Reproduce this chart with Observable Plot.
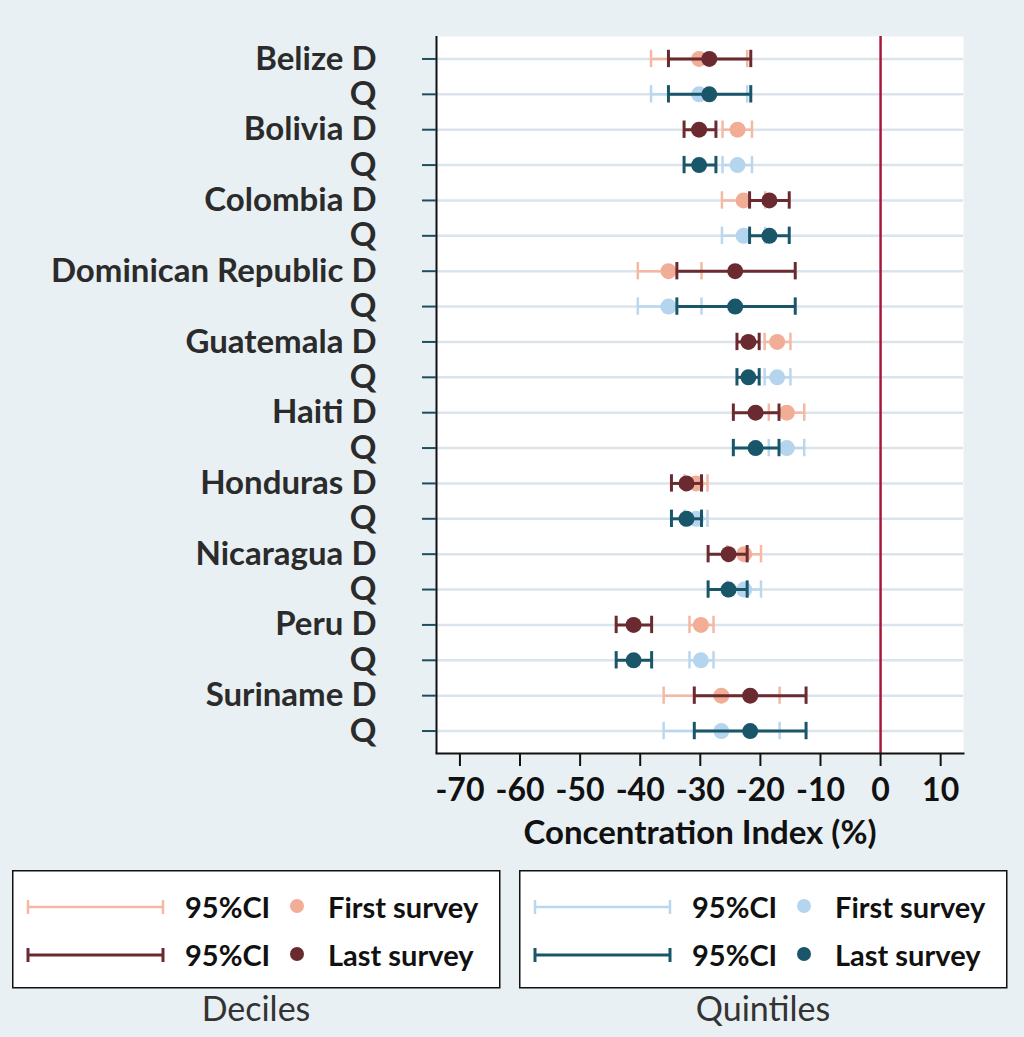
<!DOCTYPE html>
<html>
<head>
<meta charset="utf-8">
<script src="https://cdn.jsdelivr.net/npm/d3@7"></script>
<script src="https://cdn.jsdelivr.net/npm/@observablehq/plot@0.6"></script>
<style>
  html, body { margin: 0; padding: 0; background: #e9f0f3; }
  #wrap { position: relative; width: 1024px; height: 1037px; background: #e9f0f3; overflow: hidden; }
  #chart { position: absolute; left: 0; top: 0; }
  #legend { position: absolute; left: 0; top: 860px; }
</style>
</head>
<body>
<div id="wrap">
  <div id="chart"></div>
  <svg id="legend" width="1024" height="177"></svg>
</div>
<script>
// ---- data ----
const countries = ["Belize","Bolivia","Colombia","Dominican Republic","Guatemala","Haiti","Honduras","Nicaragua","Peru","Suriname"];
const methods = ["D", "Q"]; // D = deciles, Q = quintiles
const firstEst = [-30.2,-23.8,-22.8,-35.3,-17.2,-15.6,-30.7,-22.7,-29.9,-26.5];
const firstLo  = [-38.2,-26.3,-26.4,-40.4,-19.3,-18.6,-32.6,-25.5,-31.8,-36.1];
const firstHi  = [-22.2,-21.4,-19.2,-29.8,-15.0,-12.7,-28.8,-19.9,-27.8,-16.8];
const lastEst  = [-28.5,-30.2,-18.5,-24.2,-22.0,-20.8,-32.3,-25.3,-41.1,-21.7];
const lastLo   = [-35.3,-32.7,-21.8,-33.9,-23.9,-24.5,-34.8,-28.7,-44.0,-31.0];
const lastHi   = [-21.6,-27.4,-15.2,-14.2,-20.2,-16.9,-29.8,-22.2,-38.1,-12.4];
const xTicks = [-70,-60,-50,-40,-30,-20,-10,0,10];
const xDomain = [-73.9, 13.8];

// ---- table ----
const rows = [];
countries.forEach((c, i) => {
  methods.forEach(m => {
    rows.push({key: c + " " + m, country: c, method: m,
      firstEst: firstEst[i], firstLo: firstLo[i], firstHi: firstHi[i],
      lastEst: lastEst[i], lastLo: lastLo[i], lastHi: lastHi[i]});
  });
});
const keys = rows.map(d => d.key);
const labelOf = new Map(rows.map(d => [d.key, d.method === "D" ? d.country + " D" : "Q"]));

const colors = {
  D: {firstLine: "#f4b9a3", firstDot: "#f2ad97", last: "#6b2a30"},
  Q: {firstLine: "#bad7ee", firstDot: "#b5d4ee", last: "#19566a"}
};

const marks = [
  Plot.frame({fill: "white", stroke: "none"}),
  Plot.ruleY(keys, {y: d => d, stroke: "#dbe4eb", strokeWidth: 2.5}),
  Plot.ruleX([0], {stroke: "#a61a3a", strokeWidth: 2.5}),
];
for (const m of methods) {
  const data = rows.filter(d => d.method === m);
  const c = colors[m];
  marks.push(
    Plot.ruleY(data, {y: "key", x1: "firstLo", x2: "firstHi", stroke: c.firstLine, strokeWidth: 2.5}),
    Plot.tickX(data, {y: "key", x: "firstLo", stroke: c.firstLine, strokeWidth: 2.5, insetTop: 9, insetBottom: 9}),
    Plot.tickX(data, {y: "key", x: "firstHi", stroke: c.firstLine, strokeWidth: 2.5, insetTop: 9, insetBottom: 9}),
    Plot.dot(data, {y: "key", x: "firstEst", r: 8, fill: c.firstDot, stroke: "none"})
  );
}
for (const m of methods) {
  const data = rows.filter(d => d.method === m);
  const c = colors[m];
  marks.push(
    Plot.ruleY(data, {y: "key", x1: "lastLo", x2: "lastHi", stroke: c.last, strokeWidth: 3}),
    Plot.tickX(data, {y: "key", x: "lastLo", stroke: c.last, strokeWidth: 3, insetTop: 9, insetBottom: 9}),
    Plot.tickX(data, {y: "key", x: "lastHi", stroke: c.last, strokeWidth: 3, insetTop: 9, insetBottom: 9}),
    Plot.dot(data, {y: "key", x: "lastEst", r: 8, fill: c.last, stroke: "none"})
  );
}
marks.push(
  Plot.ruleX([xDomain[0]], {stroke: "#111", strokeWidth: 2}),
  Plot.frame({anchor: "bottom", stroke: "#111", strokeWidth: 2}),
  Plot.axisY({tickSize: 14, tickPadding: 46, stroke: "#1e4d5c", strokeWidth: 2, fill: "#2b2b2b",
    fontSize: 33, tickFormat: k => labelOf.get(k), label: null}),
  Plot.axisX({ticks: xTicks, tickSize: 13, tickPadding: 12, stroke: "#111", strokeWidth: 2, fill: "#111",
    fontSize: 32, tickFormat: d => String(d), label: null}),
  Plot.text(["Concentration Index (%)"], {frameAnchor: "bottom", dy: 90, fontSize: 33, fill: "#111", fontWeight: "bold"})
);

const chart = Plot.plot({
  width: 1024,
  height: 860,
  marginLeft: 436,
  marginRight: 61,
  marginTop: 36,
  marginBottom: 107,
  style: {background: "transparent", fontFamily: "Lato, 'Open Sans', sans-serif", fontSize: "33px", fontWeight: "bold", color: "#111", overflow: "visible"},
  x: {domain: xDomain},
  y: {type: "band", domain: keys, paddingInner: 0, paddingOuter: 0.135, round: false},
  marks
});
document.getElementById("chart").appendChild(chart);

// ---- legend ----
const lg = d3.select("#legend");
const legendBoxes = [
  {x: 12, title: "Deciles", c: colors.D},
  {x: 519, title: "Quintiles", c: colors.Q}
];
const entries = [
  {label: "First survey", line: "firstLine", dot: "firstDot", w: 2.5, y: 47},
  {label: "Last survey", line: "last", dot: "last", w: 3, y: 95}
];
for (const b of legendBoxes) {
  const g = lg.append("g").attr("transform", `translate(${b.x},0)`);
  g.append("rect").attr("x", 0.75).attr("y", 10.75).attr("width", 487).attr("height", 117)
    .attr("fill", "white").attr("stroke", "#111").attr("stroke-width", 1.5);
  for (const e of entries) {
    const col = b.c[e.line];
    g.append("line").attr("x1", 16).attr("x2", 151).attr("y1", e.y).attr("y2", e.y).attr("stroke", col).attr("stroke-width", e.w);
    for (const x of [16, 151]) g.append("line").attr("x1", x).attr("x2", x).attr("y1", e.y - 7).attr("y2", e.y + 7).attr("stroke", col).attr("stroke-width", e.w);
    g.append("text").attr("x", 173).attr("y", e.y + 10.5).text("95%CI")
      .attr("font-family", "Lato, sans-serif").attr("font-weight", "bold").attr("font-size", 29).attr("fill", "#111");
    g.append("circle").attr("cx", 285).attr("cy", e.y - 1).attr("r", 7).attr("fill", b.c[e.dot]);
    g.append("text").attr("x", 316).attr("y", e.y + 10.5).text(e.label)
      .attr("font-family", "Lato, sans-serif").attr("font-weight", "bold").attr("font-size", 29).attr("fill", "#111");
  }
  g.append("text").attr("x", 244).attr("y", 161).attr("text-anchor", "middle").text(b.title)
    .attr("font-family", "Lato, sans-serif").attr("font-size", 34).attr("fill", "#333");
}
</script>
</body>
</html>
